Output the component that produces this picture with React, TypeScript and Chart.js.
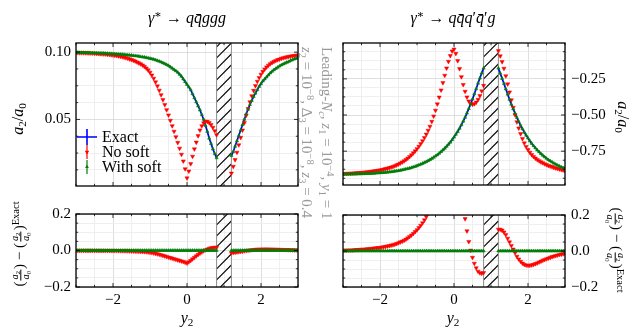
import React, { useEffect, useRef } from "react";
import { Chart, registerables } from "chart.js";

Chart.register(...registerables);

const FONT = "'Liberation Serif', 'DejaVu Serif', serif";
Chart.defaults.font.family = FONT;
Chart.defaults.color = "#000";

// sampling grid of y2 (x axis)
const Y2_MIN = -3;
const Y2_STEP = 0.05;
const Y2_COUNT = 121;
const Y2 = Array.from({ length: Y2_COUNT }, (_, i) => Math.round((Y2_MIN + i * Y2_STEP) * 100) / 100);

// excluded (hatched) region of y2
const HATCH_RANGE = [0.8, 1.2];

// gamma* -> q qbar g g g : a2/a0
const EXACT_L: (number | null)[] = [
  0.0998, 0.0998, 0.0997, 0.0997, 0.0997, 0.0996, 0.0996, 0.0996, 0.0995, 0.0995,
  0.0994, 0.0994, 0.0993, 0.0993, 0.0992, 0.0992, 0.0991, 0.099, 0.0989, 0.0989,
  0.0988, 0.0987, 0.0986, 0.0985, 0.0984, 0.0983, 0.0982, 0.098, 0.0979, 0.0977,
  0.0976, 0.0974, 0.0973, 0.0971, 0.0969, 0.0966, 0.0964, 0.0962, 0.0959, 0.0956,
  0.0953, 0.095, 0.0946, 0.0942, 0.0937, 0.0932, 0.0926, 0.092, 0.0914, 0.0907,
  0.09, 0.089, 0.088, 0.087, 0.086, 0.085, 0.0835, 0.082, 0.08, 0.078,
  0.076, 0.074, 0.072, 0.069, 0.066, 0.063, 0.06, 0.057, 0.0535, 0.05,
  0.0455, 0.041, 0.036, 0.032, 0.028, 0.0245, 0.0214,
  null, null, null, null, null, null, null,
  0.023, 0.026, 0.03, 0.034, 0.038, 0.042, 0.046, 0.05, 0.054, 0.0575,
  0.061, 0.064, 0.067, 0.0695, 0.072, 0.0745, 0.0765, 0.0785, 0.08, 0.0815,
  0.083, 0.0845, 0.0857, 0.0868, 0.0878, 0.0887, 0.0896, 0.0904, 0.0911, 0.0918,
  0.0924, 0.093, 0.0938, 0.0943, 0.0948, 0.0953, 0.0958,
];
const NOSOFT_L: (number | null)[] = [
  0.0996, 0.0996, 0.0995, 0.0995, 0.0995, 0.0994, 0.0994, 0.0993, 0.0993, 0.0992,
  0.0991, 0.099, 0.0989, 0.0988, 0.0987, 0.0986, 0.0985, 0.0983, 0.0982, 0.098,
  0.0978, 0.0976, 0.0974, 0.0971, 0.0968, 0.0965, 0.0962, 0.0958, 0.0954, 0.0949,
  0.0944, 0.0939, 0.0933, 0.0926, 0.0919, 0.0912, 0.0903, 0.0893, 0.0881, 0.0867,
  0.085, 0.0829, 0.0805, 0.0778, 0.0748, 0.0716, 0.0682, 0.0646, 0.0609, 0.0571,
  0.0532, 0.0492, 0.0452, 0.0411, 0.037, 0.0328, 0.0285, 0.024, 0.019, 0.0132,
  0.0064, 0.0115, 0.017, 0.0225, 0.028, 0.033, 0.0378, 0.042, 0.0452, 0.0474,
  0.0485, 0.0484, 0.0475, 0.046, 0.044, 0.0415, 0.0385,
  null, null, null, null, null, null, null,
  0.01, 0.015, 0.02, 0.0255, 0.031, 0.0365, 0.042, 0.0475, 0.053, 0.058,
  0.063, 0.0675, 0.0715, 0.075, 0.0782, 0.081, 0.0835, 0.0856, 0.0874, 0.0889,
  0.0902, 0.0913, 0.0922, 0.093, 0.0937, 0.0943, 0.0948, 0.0953, 0.0957, 0.0961,
  0.0964, 0.0967, 0.097, 0.0972, 0.0974, 0.0976, 0.0978,
];
// "With soft" lies on the exact curve within the resolution of the picture
const WITHSOFT_L: (number | null)[] = EXACT_L.slice();

// gamma* -> q qbar q' qbar' g : a2/a0
const EXACT_R: (number | null)[] = [
  -0.91, -0.909, -0.909, -0.909, -0.909, -0.908, -0.908, -0.908, -0.907, -0.907,
  -0.907, -0.906, -0.906, -0.905, -0.905, -0.904, -0.903, -0.903, -0.902, -0.901,
  -0.9, -0.899, -0.898, -0.897, -0.896, -0.894, -0.893, -0.891, -0.889, -0.887,
  -0.885, -0.883, -0.88, -0.877, -0.874, -0.871, -0.868, -0.864, -0.86, -0.856,
  -0.851, -0.846, -0.841, -0.835, -0.829, -0.823, -0.816, -0.809, -0.801, -0.793,
  -0.784, -0.775, -0.765, -0.754, -0.742, -0.73, -0.717, -0.703, -0.688, -0.671,
  -0.653, -0.634, -0.614, -0.592, -0.568, -0.543, -0.516, -0.487, -0.456, -0.424,
  -0.39, -0.354, -0.318, -0.28, -0.245, -0.21, -0.176,
  null, null, null, null, null, null, null,
  -0.176, -0.212, -0.247, -0.283, -0.32, -0.356, -0.392, -0.426, -0.458, -0.489,
  -0.518, -0.546, -0.572, -0.596, -0.619, -0.64, -0.66, -0.679, -0.697, -0.713,
  -0.728, -0.742, -0.755, -0.768, -0.779, -0.79, -0.8, -0.81, -0.818, -0.826,
  -0.834, -0.841, -0.848, -0.854, -0.86, -0.865, -0.87,
];
const NOSOFT_R: (number | null)[] = [
  -0.906, -0.905, -0.905, -0.904, -0.904, -0.903, -0.902, -0.901, -0.9, -0.899,
  -0.898, -0.897, -0.896, -0.894, -0.893, -0.891, -0.889, -0.887, -0.885, -0.883,
  -0.881, -0.878, -0.875, -0.872, -0.869, -0.865, -0.861, -0.857, -0.852, -0.846,
  -0.84, -0.833, -0.826, -0.818, -0.809, -0.799, -0.788, -0.776, -0.763, -0.749,
  -0.734, -0.717, -0.699, -0.679, -0.657, -0.633, -0.607, -0.579, -0.545, -0.508,
  -0.468, -0.424, -0.377, -0.328, -0.277, -0.226, -0.176, -0.13, -0.09, -0.058,
  -0.045, -0.075, -0.125, -0.18, -0.236, -0.29, -0.337, -0.376, -0.404, -0.42,
  -0.426, -0.423, -0.412, -0.393, -0.367, -0.334, -0.296,
  null, null, null, null, null, null, null,
  -0.056, -0.092, -0.132, -0.178, -0.23, -0.286, -0.342, -0.396, -0.448, -0.499,
  -0.548, -0.591, -0.63, -0.664, -0.694, -0.719, -0.74, -0.759, -0.775, -0.788,
  -0.799, -0.809, -0.817, -0.825, -0.831, -0.838, -0.844, -0.85, -0.854, -0.858,
  -0.863, -0.867, -0.871, -0.874, -0.878, -0.881, -0.884,
];
const WITHSOFT_R: (number | null)[] = EXACT_R.slice();

// axes
const X_RANGE = [-3, 3];
const X_MINOR_STEP = 0.5;
const X_MAJOR = [-2, 0, 2];
const X_LABELS = ["−2", "0", "2"];

const TL_Y_RANGE = [0.0005, 0.1068];
const TL_Y_STEP = 0.0125;
const TL_Y_MAJOR = [0.05, 0.1];
const TL_Y_LABELS = ["0.05", "0.10"];

const TR_Y_RANGE = [-0.984, -0.002];
const TR_Y_STEP = 0.0625;
const TR_Y_MAJOR = [-0.25, -0.5, -0.75];
const TR_Y_LABELS = ["−0.25", "−0.50", "−0.75"];

const D_Y_RANGE = [-0.2, 0.2];
const D_Y_STEP = 0.05;
const D_Y_MAJOR = [-0.2, 0, 0.2];
const D_Y_LABELS = ["−0.2", "0.0", "0.2"];

const SERIES_NAMES = ["Exact", "No soft", "With soft"];
const COLORS = ["#0000ff", "#ff0000", "#008000"];

const diff = (a: (number | null)[], b: (number | null)[]) =>
  a.map((v, i) => (v == null || b[i] == null ? null : (v as number) - (b[i] as number)));

const stepTicks = (min: number, max: number, step: number) => {
  const out: number[] = [];
  for (let k = Math.ceil(min / step - 1e-9); k <= Math.floor(max / step + 1e-9); k++) {
    out.push(Math.round(k * step * 1e6) / 1e6);
  }
  return out;
};
const findIdx = (arr: number[], v: number) => arr.findIndex((m) => Math.abs(m - v) < 1e-7);

type Spec = {
  exact: (number | null)[];
  noSoft: (number | null)[];
  withSoft: (number | null)[];
  yRange: number[];
  yStep: number;
  yMajor: number[];
  yLabels: string[];
  yPos: "left" | "right";
  yAxisSize: number;
  xAxisSize: number;
  pad: { top: number; left: number; right: number; bottom: number };
  xLabels: boolean;
  legend: boolean;
  box: { left: number; top: number; w: number; h: number };
};

function triangle(ctx: CanvasRenderingContext2D, x: number, y: number, r: number, down: boolean) {
  const s = down ? -1 : 1;
  ctx.beginPath();
  ctx.moveTo(x, y - s * r);
  ctx.lineTo(x - r * 0.866, y + s * r * 0.5);
  ctx.lineTo(x + r * 0.866, y + s * r * 0.5);
  ctx.closePath();
  ctx.fill();
}

function Panel({ spec }: { spec: Spec }) {
  const ref = useRef<HTMLCanvasElement>(null);
  useEffect(() => {
    if (!ref.current) return;
    const pts = (arr: (number | null)[]) => arr.map((v, i) => ({ x: Y2[i], y: v }));
    const xTicks = stepTicks(X_RANGE[0], X_RANGE[1], X_MINOR_STEP);
    const yTicks = stepTicks(spec.yRange[0], spec.yRange[1], spec.yStep);
    const isMajX = (v: number) => findIdx(X_MAJOR, v) >= 0;
    const isMajY = (v: number) => findIdx(spec.yMajor, v) >= 0;

    const deco = {
      id: "deco",
      beforeDatasetsDraw(chart: any) {
        const { ctx, chartArea } = chart;
        const { top, bottom } = chartArea;
        const x = chart.scales.x;
        const x0 = x.getPixelForValue(HATCH_RANGE[0]);
        const x1 = x.getPixelForValue(HATCH_RANGE[1]);
        ctx.save();
        ctx.beginPath();
        ctx.rect(x0, top, x1 - x0, bottom - top);
        ctx.clip();
        ctx.strokeStyle = "#000";
        ctx.lineWidth = 1.1;
        const w = x1 - x0;
        const sp = 11;
        for (let k = -w - sp; k < bottom - top + w + sp; k += sp) {
          ctx.beginPath();
          ctx.moveTo(x0, bottom - k);
          ctx.lineTo(x1, bottom - k - w);
          ctx.stroke();
        }
        ctx.restore();
        ctx.save();
        ctx.strokeStyle = "#8c8c8c";
        ctx.lineWidth = 1;
        ctx.beginPath();
        ctx.moveTo(x0, top);
        ctx.lineTo(x0, bottom);
        ctx.moveTo(x1, top);
        ctx.lineTo(x1, bottom);
        ctx.stroke();
        ctx.restore();
      },
      afterDatasetsDraw(chart: any) {
        const { ctx, chartArea } = chart;
        const { left, right, top, bottom } = chartArea;
        const xs = chart.scales.x;
        const ys = chart.scales.y;
        ctx.save();
        ctx.strokeStyle = "#000";
        ctx.lineWidth = 0.8;
        ctx.beginPath();
        for (const t of xs.ticks) {
          const px = xs.getPixelForValue(t.value);
          const L = isMajX(t.value) ? 4 : 2.2;
          ctx.moveTo(px, bottom);
          ctx.lineTo(px, bottom - L);
          ctx.moveTo(px, top);
          ctx.lineTo(px, top + L);
        }
        for (const t of ys.ticks) {
          const py = ys.getPixelForValue(t.value);
          const L = isMajY(t.value) ? 4 : 2.2;
          ctx.moveTo(left, py);
          ctx.lineTo(left + L, py);
          ctx.moveTo(right, py);
          ctx.lineTo(right - L, py);
        }
        ctx.stroke();
        ctx.lineWidth = 1.3;
        ctx.strokeRect(left, top, right - left, bottom - top);
        ctx.restore();

        if (spec.legend) {
          ctx.save();
          const hx = left + 11;
          const rows = [top + 94, top + 109, top + 124];
          // Exact
          ctx.strokeStyle = COLORS[0];
          ctx.lineWidth = 1.6;
          ctx.beginPath();
          ctx.moveTo(left + 1, rows[0]);
          ctx.lineTo(left + 21, rows[0]);
          ctx.moveTo(hx, rows[0] - 8);
          ctx.lineTo(hx, rows[0] + 8);
          ctx.stroke();
          // No soft
          ctx.strokeStyle = COLORS[1];
          ctx.fillStyle = COLORS[1];
          ctx.lineWidth = 1.2;
          ctx.beginPath();
          ctx.moveTo(hx, rows[1] - 7);
          ctx.lineTo(hx, rows[1] + 7);
          ctx.stroke();
          triangle(ctx, hx, rows[1], 2.6, true);
          // With soft
          ctx.strokeStyle = COLORS[2];
          ctx.fillStyle = COLORS[2];
          ctx.beginPath();
          ctx.moveTo(hx, rows[2] - 7);
          ctx.lineTo(hx, rows[2] + 7);
          ctx.stroke();
          triangle(ctx, hx, rows[2], 2.2, false);
          ctx.fillStyle = "#000";
          ctx.font = `16px ${FONT}`;
          ctx.textBaseline = "middle";
          ctx.textAlign = "left";
          SERIES_NAMES.forEach((n, i) => ctx.fillText(n, left + 26, rows[i] + 1));
          ctx.restore();
        }
      },
    };

    const gridColor = (maj: (v: number) => boolean) => (c: any) =>
      c.tick && maj(c.tick.value) ? "#d6d6d6" : "#ebebeb";

    const chart = new Chart(ref.current, {
      type: "scatter",
      data: {
        datasets: [
          {
            label: SERIES_NAMES[0],
            data: pts(spec.exact),
            showLine: true,
            spanGaps: false,
            borderColor: COLORS[0],
            borderWidth: 1.7,
            pointRadius: 0,
            order: 3,
            clip: 0,
          },
          {
            label: SERIES_NAMES[1],
            data: pts(spec.noSoft),
            showLine: false,
            pointStyle: "triangle",
            pointRotation: 180,
            pointRadius: 2.4,
            pointBackgroundColor: COLORS[1],
            pointBorderColor: COLORS[1],
            pointBorderWidth: 0.5,
            order: 2,
            clip: 0,
          },
          {
            label: SERIES_NAMES[2],
            data: pts(spec.withSoft),
            showLine: false,
            pointStyle: "triangle",
            pointRadius: 1.9,
            pointBackgroundColor: COLORS[2],
            pointBorderColor: COLORS[2],
            pointBorderWidth: 0.5,
            order: 1,
            clip: 0,
          },
        ] as any,
      },
      options: {
        responsive: false,
        animation: false,
        devicePixelRatio: 1,
        events: [],
        layout: { padding: spec.pad, autoPadding: false } as any,
        plugins: { legend: { display: false }, tooltip: { enabled: false } },
        scales: {
          x: {
            type: "linear",
            min: X_RANGE[0],
            max: X_RANGE[1],
            afterBuildTicks: (s: any) => {
              s.ticks = xTicks.map((v) => ({ value: v }));
            },
            afterFit: (s: any) => {
              s.height = spec.xAxisSize;
            },
            ticks: {
              display: spec.xLabels,
              autoSkip: false,
              maxRotation: 0,
              padding: 4,
              font: { size: 15, family: FONT },
              color: "#000",
              callback: (v: any) => {
                const k = findIdx(X_MAJOR, Number(v));
                return k >= 0 ? X_LABELS[k] : "";
              },
            },
            grid: { drawTicks: false, color: gridColor(isMajX), lineWidth: 0.8 },
            border: { display: false },
          },
          y: {
            type: "linear",
            position: spec.yPos,
            min: spec.yRange[0],
            max: spec.yRange[1],
            afterBuildTicks: (s: any) => {
              s.ticks = yTicks.map((v) => ({ value: v }));
            },
            afterFit: (s: any) => {
              s.width = spec.yAxisSize;
            },
            ticks: {
              autoSkip: false,
              padding: spec.yPos === "left" ? 5 : 6,
              font: { size: 15, family: FONT },
              color: "#000",
              callback: (v: any) => {
                const k = findIdx(spec.yMajor, Number(v));
                return k >= 0 ? spec.yLabels[k] : "";
              },
            },
            grid: { drawTicks: false, color: gridColor(isMajY), lineWidth: 0.8 },
            border: { display: false },
          },
        },
      } as any,
      plugins: [deco as any],
    });
    return () => chart.destroy();
  }, [spec]);
  const b = spec.box;
  return (
    <canvas
      ref={ref}
      width={b.w}
      height={b.h}
      style={{ position: "absolute", left: b.left, top: b.top, width: b.w, height: b.h }}
    />
  );
}

const SPECS: Spec[] = [
  {
    exact: EXACT_L, noSoft: NOSOFT_L, withSoft: WITHSOFT_L,
    yRange: TL_Y_RANGE, yStep: TL_Y_STEP, yMajor: TL_Y_MAJOR, yLabels: TL_Y_LABELS,
    yPos: "left", yAxisSize: 76, xAxisSize: 9,
    pad: { top: 43, left: 0, right: 4, bottom: 0 }, xLabels: false, legend: true,
    box: { left: 0, top: 0, w: 302, h: 200 },
  },
  {
    exact: diff(EXACT_L, EXACT_L), noSoft: diff(NOSOFT_L, EXACT_L), withSoft: diff(WITHSOFT_L, EXACT_L),
    yRange: D_Y_RANGE, yStep: D_Y_STEP, yMajor: D_Y_MAJOR, yLabels: D_Y_LABELS,
    yPos: "left", yAxisSize: 76, xAxisSize: 47,
    pad: { top: 13, left: 0, right: 4, bottom: 0 }, xLabels: true, legend: false,
    box: { left: 0, top: 200, w: 302, h: 134 },
  },
  {
    exact: EXACT_R, noSoft: NOSOFT_R, withSoft: WITHSOFT_R,
    yRange: TR_Y_RANGE, yStep: TR_Y_STEP, yMajor: TR_Y_MAJOR, yLabels: TR_Y_LABELS,
    yPos: "right", yAxisSize: 72, xAxisSize: 9,
    pad: { top: 43, left: 13, right: 0, bottom: 0 }, xLabels: false, legend: false,
    box: { left: 330, top: 0, w: 307, h: 200 },
  },
  {
    exact: diff(EXACT_R, EXACT_R), noSoft: diff(NOSOFT_R, EXACT_R), withSoft: diff(WITHSOFT_R, EXACT_R),
    yRange: D_Y_RANGE, yStep: D_Y_STEP, yMajor: D_Y_MAJOR, yLabels: D_Y_LABELS,
    yPos: "right", yAxisSize: 72, xAxisSize: 47,
    pad: { top: 13, left: 13, right: 0, bottom: 0 }, xLabels: true, legend: false,
    box: { left: 330, top: 200, w: 307, h: 134 },
  },
];

const Sup = ({ children }: any) => (
  <span style={{ fontSize: "0.7em", verticalAlign: "0.5em", lineHeight: 0 }}>{children}</span>
);
const Sub = ({ children }: any) => (
  <span style={{ fontSize: "0.7em", verticalAlign: "-0.25em", lineHeight: 0 }}>{children}</span>
);
const I = ({ children }: any) => <i>{children}</i>;
const Frac = ({ n, d }: any) => (
  <span
    style={{
      display: "inline-flex",
      flexDirection: "column",
      alignItems: "center",
      verticalAlign: "middle",
      fontSize: "0.68em",
      lineHeight: 1,
      margin: "0 1px",
    }}
  >
    <span style={{ borderBottom: "0.8px solid currentColor", padding: "0 1px" }}>{n}</span>
    <span>{d}</span>
  </span>
);
const A2 = () => (<><I>a</I><Sub>2</Sub></>);
const A0 = () => (<><I>a</I><Sub>0</Sub></>);

const Centered = ({ x, y, rot = 0, size = 16, color = "#000", children }: any) => (
  <div
    style={{
      position: "absolute",
      left: x,
      top: y,
      transform: `translate(-50%, -50%) rotate(${rot}deg)`,
      whiteSpace: "nowrap",
      fontFamily: FONT,
      fontSize: size,
      lineHeight: 1.2,
      color,
    }}
  >
    {children}
  </div>
);
const SideText = ({ x, y, size = 15, children }: any) => (
  <div
    style={{
      position: "absolute",
      left: x,
      top: y,
      transformOrigin: "0 0",
      transform: "rotate(90deg) translateY(-50%)",
      whiteSpace: "nowrap",
      fontFamily: FONT,
      fontSize: size,
      lineHeight: "16px",
      color: "#9a9a9a",
    }}
  >
    {children}
  </div>
);

const DiffLabel = () => (
  <>
    (<Frac n={<A2 />} d={<A0 />} />) − (<Frac n={<A2 />} d={<A0 />} />)<Sup>Exact</Sup>
  </>
);

export default function App() {
  return (
    <div
      style={{
        position: "fixed",
        left: 0,
        top: 0,
        width: 637,
        height: 334,
        overflow: "hidden",
        background: "#fff",
      }}
    >
      {SPECS.map((s, i) => (
        <Panel key={i} spec={s} />
      ))}
      <Centered x={187} y={18}>
        <I>γ</I><Sup>∗</Sup> → <I>q</I><I>q̄</I><I>ggg</I>
      </Centered>
      <Centered x={453} y={18}>
        <I>γ</I><Sup>∗</Sup> → <I>q</I><I>q̄</I><I>q</I>′<I>q̄</I>′<I>g</I>
      </Centered>
      <Centered x={18} y={119} rot={-90}>
        <A2 />/<A0 />
      </Centered>
      <Centered x={623} y={117} rot={90}>
        <A2 />/<A0 />
      </Centered>
      <Centered x={21} y={244} rot={-90} size={15}>
        <DiffLabel />
      </Centered>
      <Centered x={615} y={250} rot={90} size={15}>
        <DiffLabel />
      </Centered>
      <Centered x={187} y={318}>
        <I>y</I><Sub>2</Sub>
      </Centered>
      <Centered x={453} y={318}>
        <I>y</I><Sub>2</Sub>
      </Centered>
      <SideText x={327} y={47}>
        Leading-<I>N</I><Sub><I>c</I></Sub>, <I>z</I><Sub>1</Sub> = 10<Sup>−4</Sup>, <I>y</I><Sub>1</Sub> = 1
      </SideText>
      <SideText x={307} y={47}>
        <I>z</I><Sub>2</Sub> = 10<Sup>−8</Sup>, Δ<Sub>3</Sub> = 10<Sup>−8</Sup>, <I>z</I><Sub>3</Sub> = 0.4
      </SideText>
    </div>
  );
}
